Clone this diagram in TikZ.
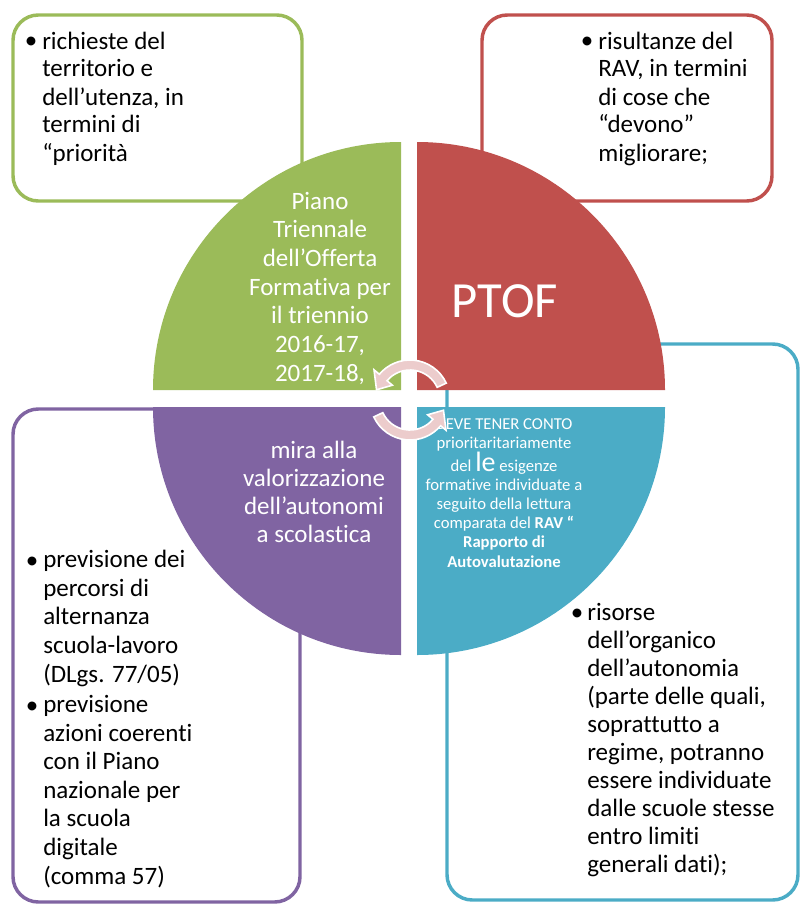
\documentclass[tikz,border=0pt]{standalone}
\usepackage{fontspec}
\setmainfont[Ligatures=NoCommon]{Carlito}
\definecolor{cgreen}{HTML}{9BBB59}
\definecolor{cred}{HTML}{C0504D}
\definecolor{cpurple}{HTML}{8064A2}
\definecolor{cblue}{HTML}{4BACC6}
\definecolor{carrow}{RGB}{236,204,204}
\begin{document}
\begin{tikzpicture}[x=0.75pt,y=0.75pt,
  boxline/.style={line width=2.6pt, rounded corners=19pt},
  boxtext/.style={font=\fontsize{18.75}{21}\selectfont, align=left, inner sep=0pt, anchor=base west},
  bul/.style={font=\fontsize{18.75}{21}\selectfont, inner sep=0pt, anchor=base},
  quadtext/.style={font=\fontsize{18.75}{21.5}\selectfont, align=center, inner sep=0pt, anchor=base, text=white},
  arrowst/.style={fill=carrow, draw=white, line width=1.2pt, line join=miter}]
\useasboundingbox (0,0) rectangle (801,-906);
% outer boxes
\draw[boxline, draw=cgreen] (13,-15) rectangle (302,-201);
\draw[boxline, draw=cred] (482,-15) rectangle (772,-201);
\draw[boxline, draw=cpurple] (13,-409) rectangle (300,-902);
\draw[boxline, draw=cblue] (447,-344) rectangle (798,-900);
% quadrants
\fill[cgreen] (401,-390) -- ++(90:248) arc[start angle=90, end angle=180, radius=248] -- cycle;
\fill[cred] (417,-390) -- ++(0:248) arc[start angle=0, end angle=90, radius=248] -- cycle;
\fill[cpurple] (401,-407) -- ++(180:248) arc[start angle=180, end angle=270, radius=248] -- cycle;
\fill[cblue] (417,-407) -- ++(270:248) arc[start angle=270, end angle=360, radius=248] -- cycle;
% box texts (multi-line nodes anchored at the baseline of their last line)
\node[bul] (gb) at (31,-49) {\textbullet};
\node[boxtext] (gt) at (42,-161) {richieste del\\territorio e\\dell’utenza, in\\termini di\\“priorità};
\node[bul] (rb) at (587,-49) {\textbullet};
\node[boxtext] (rt) at (598,-161) {risultanze del\\RAV, in termini\\di cose che\\“devono”\\migliorare;};
\node[bul] (pb1) at (32,-568) {\textbullet};
\node[boxtext, font=\fontsize{18.75}{21.4}\selectfont] (pt1) at (43,-682) {previsione dei\\percorsi di\\alternanza\\scuola-lavoro\\(DLgs. 77/05)};
\node[bul] (pb2) at (32,-713) {\textbullet};
\node[boxtext, font=\fontsize{18.75}{21.4}\selectfont] (pt2) at (43,-884) {previsione\\azioni coerenti\\con il Piano\\nazionale per\\la scuola\\digitale\\(comma 57)};
\node[bul] (bb) at (577,-620) {\textbullet};
\node[boxtext] (bt) at (587,-872) {risorse\\dell’organico\\dell’autonomia\\(parte delle quali,\\soprattutto a\\regime, potranno\\essere individuate\\dalle scuole stesse\\entro limiti\\generali dati);};
% quadrant texts
\node[quadtext] (qg) at (320,-381) {Piano\\Triennale\\dell’Offerta\\Formativa per\\il triennio\\2016-17,\\2017-18,};
\node[inner sep=0pt, text=white, font=\fontsize{38}{38}\selectfont] (qr) at (505,-301) {PTOF};
\node[quadtext, font=\fontsize{18.75}{21}\selectfont] (qp) at (314,-542) {mira alla\\valorizzazione\\dell’autonomi\\a scolastica};
\node[quadtext, font=\fontsize{12.5}{14.3}\selectfont] (qb) at (504,-567) {DEVE TENER CONTO\\prioritaritariamente\\del {\fontsize{21}{21}\selectfont le} esigenze\\formative individuate a\\seguito della lettura\\comparata del \textbf{RAV “}\\\textbf{Rapporto di}\\\textbf{Autovalutazione}};
% circular arrows
\coordinate (ac) at (410,-400);
\path[arrowst] ([shift={(25:40)}]ac) arc[start angle=25, end angle=140, radius=40]
  -- ([shift={(140:47)}]ac) -- ([shift={(163:35)}]ac) -- ([shift={(140:23)}]ac)
  -- ([shift={(140:30)}]ac) arc[start angle=140, end angle=25, radius=30] -- cycle;
\path[arrowst] ([shift={(205:40)}]ac) arc[start angle=205, end angle=320, radius=40]
  -- ([shift={(320:47)}]ac) -- ([shift={(343:35)}]ac) -- ([shift={(320:23)}]ac)
  -- ([shift={(320:30)}]ac) arc[start angle=320, end angle=205, radius=30] -- cycle;
\end{tikzpicture}
\end{document}
